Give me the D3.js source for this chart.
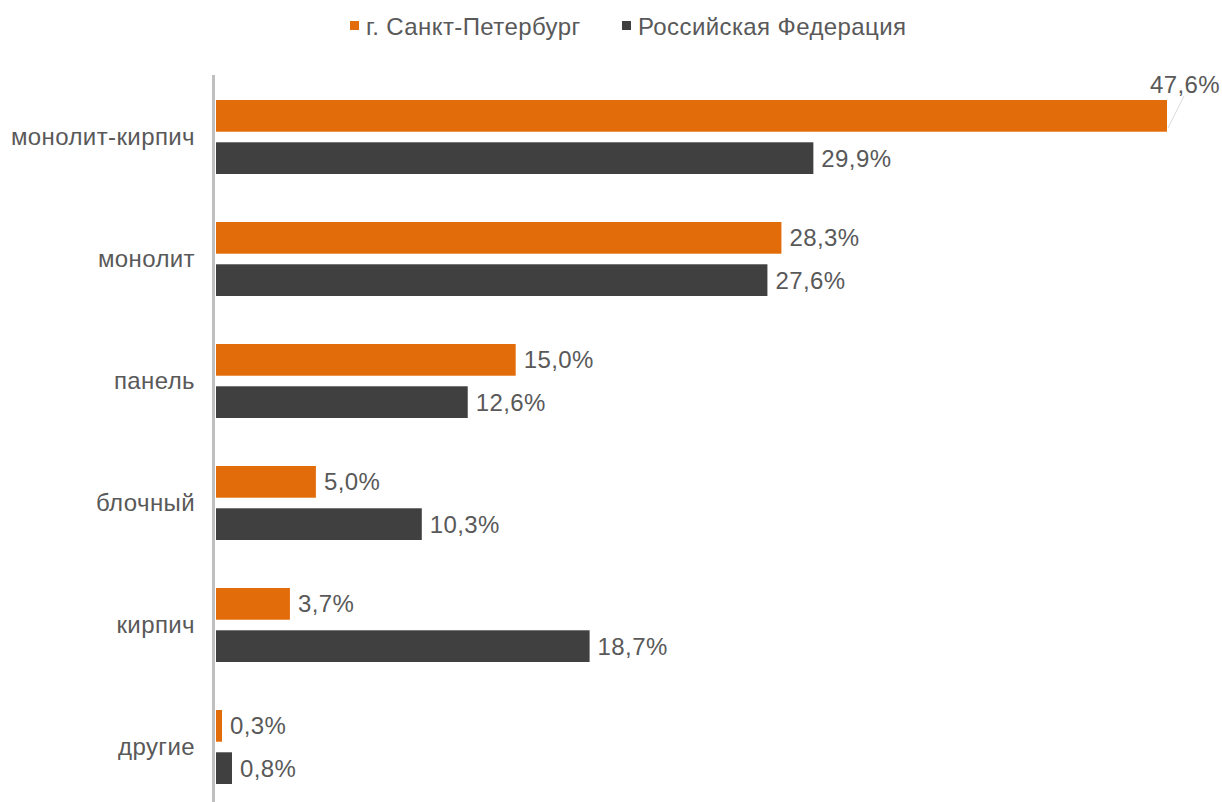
<!DOCTYPE html>
<html>
  <head>
    <meta charset="UTF-8" />
    <script src="https://cdn.jsdelivr.net/npm/d3@7"></script>
    <style>
      body { margin: 0; background: #fff; }
    </style>
  </head>
  <body>
    <svg></svg>
    <script>
      // data
      const categories = ['монолит-кирпич', 'монолит', 'панель', 'блочный', 'кирпич', 'другие'];
      const seriesNames = ['г. Санкт-Петербург', 'Российская Федерация'];
      const spbValues = [47.6, 28.3, 15.0, 5.0, 3.7, 0.3];
      const rfValues = [29.9, 27.6, 12.6, 10.3, 18.7, 0.8];

      const width = 1222;
      const height = 802;
      const colors = ['#e36c0a', '#404040'];
      const textColor = '#595959';
      const fs = 24;
      const fmt = (v) => v.toFixed(1).replace('.', ',') + '%';

      const svg = d3
        .select('svg')
        .attr('width', width)
        .attr('height', height)
        .style('font-family', '"Liberation Sans", Arial, sans-serif')
        .style('letter-spacing', '0.4px');

      const x = d3.scaleLinear().domain([0, 47.6]).range([216, 1167]);
      const y = d3.scaleBand().domain(categories).range([76, 808]);
      const sub = d3.scaleBand().domain([0, 1]).range([24, 98]).paddingInner(0.25);

      const rows = categories.map((c, i) => ({ cat: c, vals: [spbValues[i], rfValues[i]] }));

      // category labels
      svg
        .append('g')
        .selectAll('text')
        .data(categories)
        .join('text')
        .attr('x', 195)
        .attr('y', (d) => y(d) + y.bandwidth() / 2)
        .attr('dy', '0.35em')
        .attr('text-anchor', 'end')
        .attr('fill', textColor)
        .attr('font-size', fs)
        .text((d) => d);

      // bars
      const g = svg
        .append('g')
        .selectAll('g')
        .data(rows)
        .join('g')
        .attr('transform', (d) => `translate(0,${y(d.cat)})`);

      g.selectAll('rect')
        .data((d) => d.vals.map((v, k) => ({ v, k })))
        .join('rect')
        .attr('x', x(0))
        .attr('y', (d) => sub(d.k))
        .attr('width', (d) => x(d.v) - x(0))
        .attr('height', sub.bandwidth())
        .attr('fill', (d) => colors[d.k]);

      // value labels
      g.selectAll('text')
        .data((d, i) => d.vals.map((v, k) => ({ v, k, i })))
        .join('text')
        .attr('x', (d) => (d.i === 0 && d.k === 0 ? 1150 : x(d.v) + 8))
        .attr('y', (d) => (d.i === 0 && d.k === 0 ? 9 : sub(d.k) + sub.bandwidth() / 2))
        .attr('dy', '0.35em')
        .attr('fill', textColor)
        .attr('font-size', fs)
        .text((d) => fmt(d.v));

      // leader line for the top label
      svg
        .append('line')
        .attr('x1', x(spbValues[0]) + 1)
        .attr('y1', y(categories[0]) + sub(0) + 28)
        .attr('x2', 1184)
        .attr('y2', 96)
        .attr('stroke', '#d9d9d9')
        .attr('stroke-width', 1);

      // axis line
      svg
        .append('line')
        .attr('x1', 213.5)
        .attr('x2', 213.5)
        .attr('y1', 75)
        .attr('y2', height)
        .attr('stroke', '#bfbfbf')
        .attr('stroke-width', 3);

      // legend
      const legend = svg.append('g').attr('font-size', fs).attr('fill', textColor);
      const legendX = [350, 622];
      seriesNames.forEach((name, k) => {
        legend
          .append('rect')
          .attr('x', legendX[k])
          .attr('y', 21)
          .attr('width', 9)
          .attr('height', 9)
          .attr('fill', colors[k]);
        legend
          .append('text')
          .attr('x', legendX[k] + 16)
          .attr('y', 27)
          .attr('dy', '0.35em')
          .text(name);
      });
    </script>
  </body>
</html>
